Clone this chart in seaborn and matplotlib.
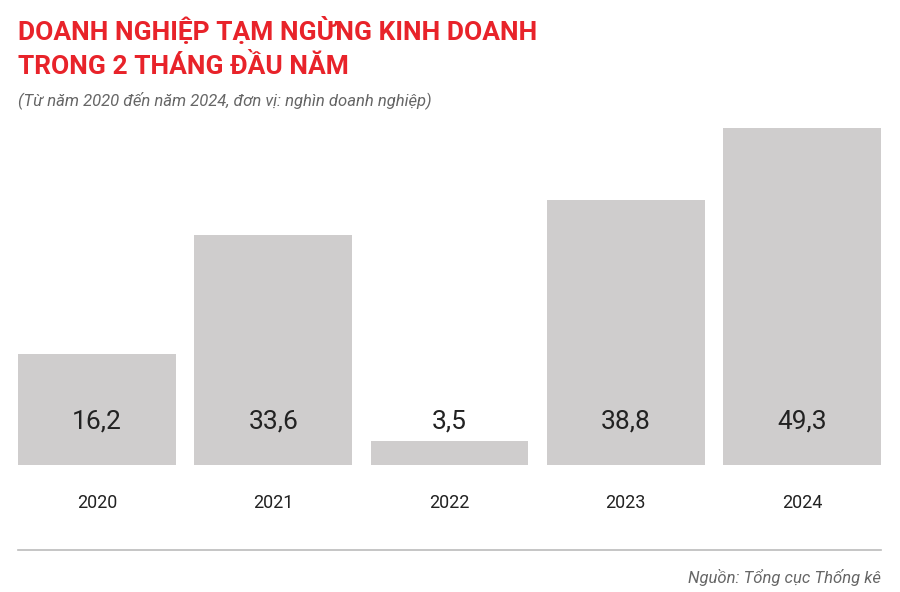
import matplotlib
matplotlib.use("Agg")
import matplotlib.pyplot as plt
import seaborn as sns
import pandas as pd

years = ["2020", "2021", "2022", "2023", "2024"]
values = [16.2, 33.6, 3.5, 38.8, 49.3]
labels = ["16,2", "33,6", "3,5", "38,8", "49,3"]

df = pd.DataFrame({"year": years, "value": values})
plt.rcParams["font.family"] = "Roboto"
fig = plt.figure(figsize=(9, 5.92), dpi=100)
ax = fig.add_axes([0.01, 1 - 465 / 592, 0.979, (465 - 123) / 592])
sns.barplot(data=df, x="year", y="value", color="#cfcdcd", width=0.895, ax=ax, saturation=1)
ax.set_xlim(-0.5, 4.5)
ax.set_ylim(0, 50)
ax.axis("off")
for i, lab in enumerate(labels):
    ax.text(i, 6.3, lab, ha="center", va="center", fontsize=19, color="#222222")
    ax.text(i, -5.5, years[i], ha="center", va="center", fontsize=13, color="#222222")

fig.text(18 / 900, 1 - 30 / 592, "DOANH NGHIỆP TẠM NGỪNG KINH DOANH", fontsize=19, fontweight="bold",
         color="#e8232a", va="center", ha="left")
fig.text(18 / 900, 1 - 67 / 592, "TRONG 2 THÁNG ĐẦU NĂM", fontsize=19, fontweight="bold",
         color="#e8232a", va="center", ha="left")
fig.text(18 / 900, 1 - 100 / 592, "(Từ năm 2020 đến năm 2024, đơn vị: nghìn doanh nghiệp)", fontsize=12,
         style="italic", color="#666666", va="center", ha="left")
fig.add_artist(plt.Line2D([18 / 900, 881 / 900], [1 - 550 / 592] * 2, color="#bbbbbb", lw=1.2))
fig.text(881 / 900, 1 - 577 / 592, "Nguồn: Tổng cục Thống kê", fontsize=12, style="italic",
         color="#666666", va="center", ha="right")
fig.savefig("out.png", dpi=100)
